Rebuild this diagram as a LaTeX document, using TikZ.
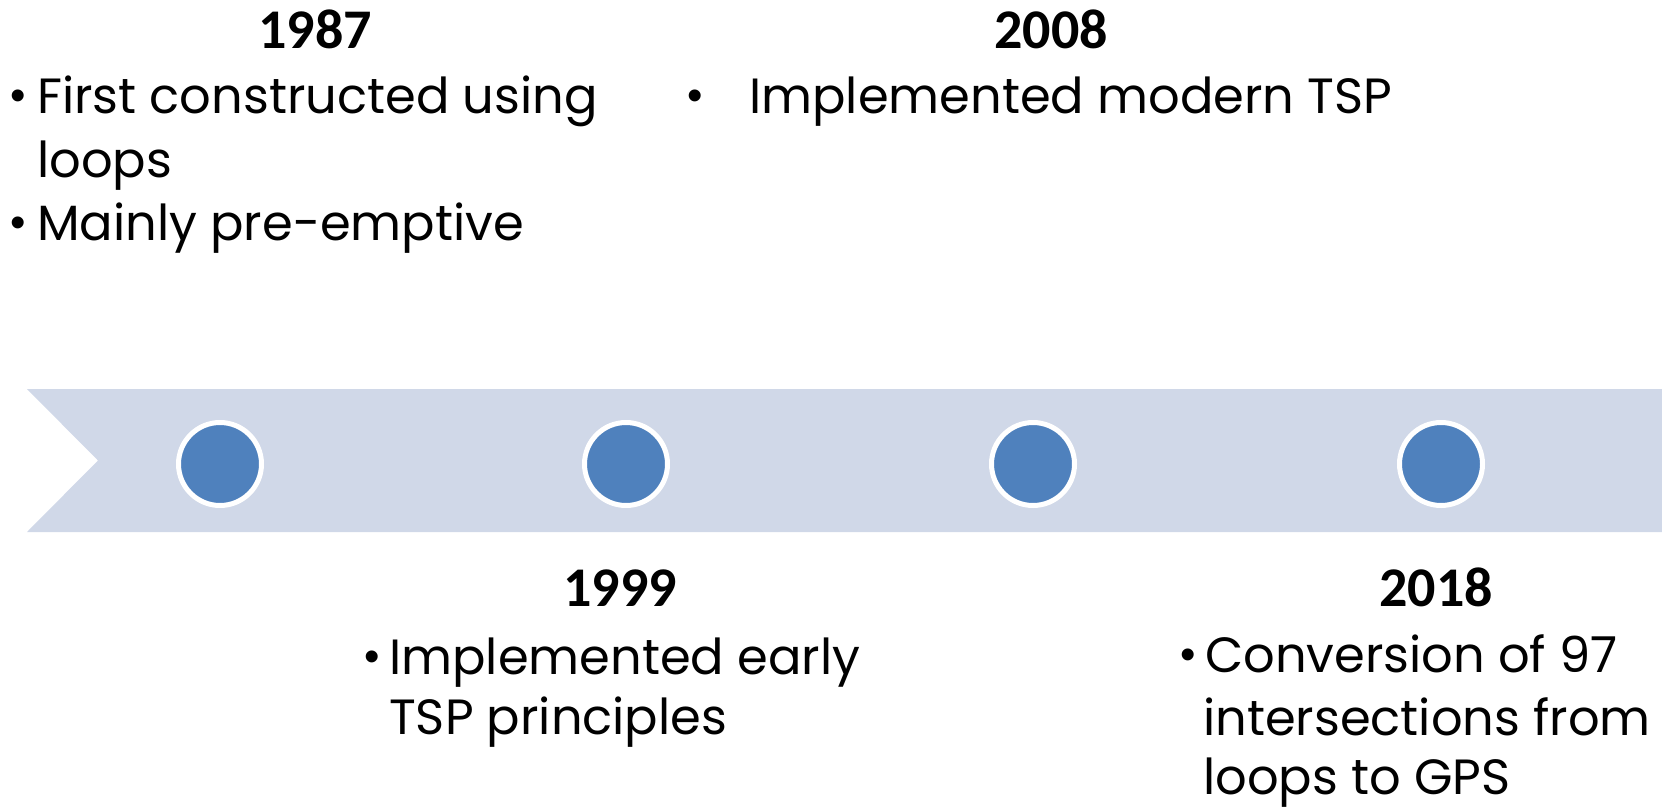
\documentclass[tikz,border=0pt]{standalone}
\usepackage{fontspec}
\newfontfamily\txtf{Poppins}
\newfontfamily\yrf{Carlito}
\newfontfamily\bulf{Liberation Sans}
\definecolor{bandc}{RGB}{208,216,232}
\definecolor{dotc}{RGB}{79,129,189}
\begin{document}
\begin{tikzpicture}[x=1pt,y=-1pt,
  band/.style={fill=bandc, draw=none},
  dot/.style={circle, fill=dotc, draw=white, line width=5pt, minimum size=83pt, inner sep=0pt},
  yr/.style={font=\yrf\bfseries\fontsize{56}{60}\selectfont, anchor=base, inner sep=0pt},
  txt/.style={font=\txtf\fontsize{49.5}{60}\selectfont, anchor=base west, inner sep=0pt},
  bul/.style={font=\bulf\fontsize{44}{50}\selectfont, anchor=base west, inner sep=0pt}]
\useasboundingbox (0,0) rectangle (1662,809);
\fill[white] (0,0) rectangle (1662,809);
\fill[band] (27,389) -- (1662,389) -- (1662,532) -- (27,532) -- (98,460.5) -- cycle;
\node[dot] (c1) at (220,464) {};
\node[dot] (c2) at (626,464) {};
\node[dot] (c3) at (1033,464) {};
\node[dot] (c4) at (1441,464) {};
% 1987
\node[yr] (y1) at (315,48) {1987};
\node[bul] (b1a) at (10,110) {•};
\node[txt] (t1a) at (37,113) {First constructed using};
\node[txt] (t1b) at (37,177) {loops};
\node[bul] (b1b) at (10,237) {•};
\node[txt] (t1c) at (37,240) {Mainly pre-emptive};
% 2008
\node[yr] (y2) at (1051,48) {2008};
\node[bul] (b2a) at (687,110) {•};
\node[txt] (t2a) at (749,113) {Implemented modern TSP};
% 1999
\node[yr] (y3) at (620,606) {1999};
\node[bul] (b3a) at (364,671) {•};
\node[txt] (t3a) at (389,674) {Implemented early};
\node[txt] (t3b) at (389,734) {TSP principles};
% 2018
\node[yr] (y4) at (1436,606) {2018};
\node[bul] (b4a) at (1180,669) {•};
\node[txt] (t4a) at (1205,672) {Conversion of 97};
\node[txt] (t4b) at (1203,735) {intersections from};
\node[txt] (t4c) at (1203,794) {loops to GPS};
\end{tikzpicture}
\end{document}
